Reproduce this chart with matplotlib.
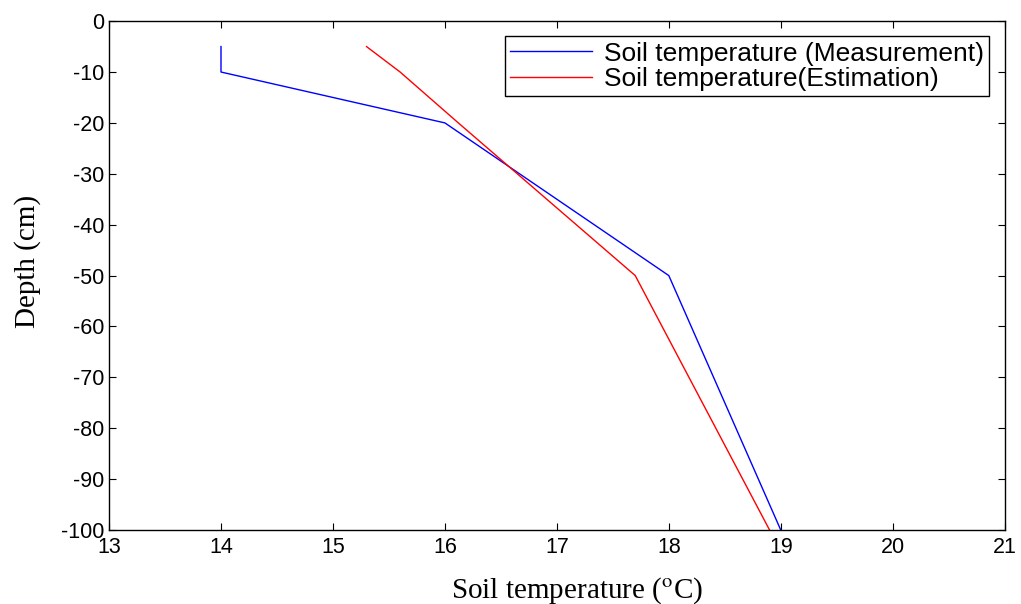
import numpy as np
import matplotlib
matplotlib.use('Agg')
import matplotlib.pyplot as plt

plt.rcParams['font.family'] = ['Liberation Sans', 'DejaVu Sans']
plt.rcParams['mathtext.fontset'] = 'stix'
plt.rcParams['axes.unicode_minus'] = False

# data
depth_meas = [-5, -10, -20, -50, -100]
temp_meas = [14.0, 14.0, 16.0, 18.0, 19.0]
depth_est = [-5, -10, -20, -50, -100]
temp_est = [15.3, 15.6, 16.12, 17.7, 18.9]

fig = plt.figure(figsize=(10.21, 6.04), dpi=100)
ax = fig.add_axes([0.1068, 0.1225, 0.8772, 0.8425])

ax.plot(temp_meas, depth_meas, color='#0000ff', lw=1.0,
        label='Soil temperature (Measurement)')
ax.plot(temp_est, depth_est, color='#ff0000', lw=1.0,
        label='Soil temperature(Estimation)')

ax.set_xlim(13, 21)
ax.set_ylim(-100, 0)
ax.set_xticks(np.arange(13, 22, 1))
ax.set_yticks(np.arange(-100, 1, 10))
ax.tick_params(direction='in', top=True, right=True, labelsize=15.5,
               length=5, width=0.8)
ax.tick_params(axis='x', pad=5)
for s in ax.spines.values():
    s.set_linewidth(1.0)

ax.set_xlabel(r'Soil temperature ($^{\mathrm{o}}$C)', family='Liberation Serif',
              fontsize=21)
ax.xaxis.set_label_coords(0.523, -0.089)
ax.set_ylabel('Depth (cm)', family='Liberation Serif', fontsize=21)
ax.yaxis.set_label_coords(-0.076, 0.527)

leg = ax.legend(loc='upper right', bbox_to_anchor=(0.983, 0.97), fontsize=19,
                fancybox=False, edgecolor='black', framealpha=1,
                handlelength=3.1, handletextpad=0.45, borderpad=0.2,
                labelspacing=0.05, borderaxespad=0)
leg.get_frame().set_linewidth(1.0)

fig.savefig('out.png', dpi=100)
